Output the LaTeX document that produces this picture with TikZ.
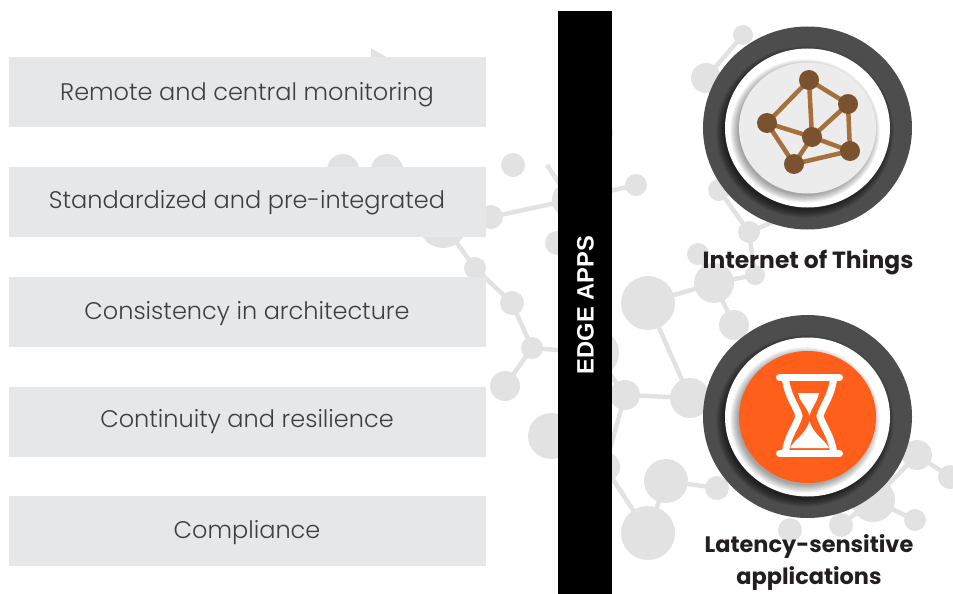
\documentclass[tikz,border=0pt]{standalone}
\usepackage{fontspec}
\setmainfont{Poppins}
\newfontfamily\lightf{Poppins Light}
\newfontfamily\barf{Liberation Sans}[BoldFont={Liberation Sans Bold}]
\usetikzlibrary{shapes.geometric}
\definecolor{atomc}{HTML}{E2E2E2}
\definecolor{boxc}{HTML}{E6E7E8}
\definecolor{ringc}{HTML}{4D4D4D}
\definecolor{discc}{HTML}{ECECEC}
\definecolor{orangec}{HTML}{FF5F1B}
\definecolor{netn}{HTML}{7A5230}
\definecolor{nete}{HTML}{A5703A}
\definecolor{inkc}{HTML}{231F20}
\definecolor{greyt}{HTML}{3F3F42}
\tikzset{
 atom/.style={circle,fill=atomc,inner sep=0pt,minimum size=#1 pt},
 bond/.style={draw=atomc,line width=4.5pt},
 featbox/.style={rectangle,fill=boxc,inner sep=0pt,minimum width=477pt,minimum height=70pt},
 feattext/.style={text=greyt,font=\lightf\fontsize{24}{30}\selectfont},
 headlab/.style={text=inkc,font=\bfseries\fontsize{23.4}{32}\selectfont,align=center},
 ringo/.style={ellipse,fill=ringc,inner sep=0pt,minimum width=209pt,minimum height=203pt},
 ringw/.style={ellipse,fill=white,inner sep=0pt,minimum width=165pt,minimum height=159pt},
 netnode/.style={circle,fill=netn,inner sep=0pt,minimum size=20pt},
 netedge/.style={draw=nete,line width=4.5pt},
 glass/.style={draw=white,line width=7pt,line cap=round},
}
\newcommand{\softshadow}[5]{% x y rx ry opacity
 \foreach \g in {0,1,...,7}{
  \fill[black,opacity=#5] (#1,#2) ellipse [x radius=#3+\g*1.1,y radius=#4+\g*1.1];
 }}
\begin{document}
\begin{tikzpicture}[x=1pt,y=-1pt]
\useasboundingbox (0,0) rectangle (953,594);
% molecule atoms
\fill[atomc] (371,48) -- (386,57) -- (371,57) -- cycle;
\node[atom=32] (a1) at (343,170) {};
\node[atom=32] (a2) at (387,170) {};
\node[atom=24] (a3) at (513,165) {};
\coordinate (a4) at (547,165);
\node[atom=36] (a5) at (570,200) {};
\node[atom=24] (a6) at (491,217) {};
\node[atom=48] (a7) at (443,224) {};
\node[atom=22] (a8) at (475,268) {};
\node[atom=24] (a9) at (512,303) {};
\node[atom=22] (a10) at (532,348) {};
\node[atom=22] (a11) at (636,185) {};
\node[atom=24] (a12) at (557,243) {};
\node[atom=26] (a13) at (600,133) {};
\node[atom=54] (a14) at (648,303) {};
\node[atom=40] (a15) at (714,283) {};
\node[atom=30] (a16) at (734,325) {};
\node[atom=20] (a17) at (755,275) {};
\node[atom=20] (a18) at (743,35) {};
\node[atom=30] (a19) at (706,78) {};
\node[atom=22] (a20) at (719,190) {};
\node[atom=22] (a21) at (749,232) {};
\node[atom=22] (a22) at (698,254) {};
\node[atom=30] (a23) at (505,386) {};
\node[atom=46] (a24) at (551,436) {};
\node[atom=48] (a25) at (595,353) {};
\node[atom=30] (a26) at (625,395) {};
\node[atom=40] (a27) at (690,398) {};
\node[atom=30] (a28) at (605,467) {};
\node[atom=44] (a29) at (666,481) {};
\node[atom=24] (a30) at (717,488) {};
\node[atom=54] (a31) at (648,533) {};
\node[atom=30] (a32) at (917,455) {};
\node[atom=24] (a33) at (950,477) {};
\node[atom=44] (a34) at (873,500) {};
\node[atom=22] (a35) at (915,520) {};
\node[atom=24] (a36) at (841,525) {};
\node[atom=24] (a37) at (790,530) {};
\coordinate (a38) at (790,215);
% bonds
\foreach \p/\q in {a4/a5,a6/a5,a5/a11,a7/a8,a8/a9,a9/a10,a10/a23,a10/a25,a14/a15,a15/a16,a15/a17,a14/a27,a26/a27,a25/a26,a26/a28,a28/a31,a29/a31,a29/a30,a18/a19,a20/a21,a21/a38,a21/a17,a22/a15,a32/a33,a34/a35,a34/a36,a34/a32}
  \draw[bond] (\p.center) -- (\q.center);
% feature boxes
\node[featbox] (b1) at (247.5,92) {};
\node[featbox] (b2) at (247.5,202) {};
\node[featbox] (b3) at (247.5,312) {};
\node[featbox] (b4) at (247.5,422) {};
\node[featbox] (b5) at (247.5,531) {};
\node[feattext] at (247,95) {Remote and central monitoring};
\node[feattext] at (247,203) {Standardized and pre-integrated};
\node[feattext] at (247,314) {Consistency in architecture};
\node[feattext] at (247,422) {Continuity and resilience};
\node[feattext] at (247,533) {Compliance};
% bar
\fill[black] (558,11) rectangle (612,594);
\node[rotate=90,text=white,font=\barf\bfseries\fontsize{23.7}{28}\selectfont] (bartext) at (585.5,305) {EDGE APPS};
% ring 1
\node[ringo] (r1) at (807.5,128) {};
\softshadow{805}{132}{81}{78}{0.09}
\node[ringw] (w1) at (807.5,128) {};
\softshadow{805}{131}{67}{64}{0.05}
\node[ellipse,fill=discc,inner sep=0pt,minimum width=137pt,minimum height=131pt] (d1) at (807.5,128) {};
\coordinate (n1) at (809,80);
\coordinate (n2) at (848,104);
\coordinate (n3) at (850,151);
\coordinate (n4) at (812,137);
\coordinate (n5) at (767,123);
\coordinate (n6) at (794,164);
\foreach \p/\q in {n1/n5,n1/n4,n1/n2,n2/n4,n2/n3,n4/n3,n4/n5,n4/n6,n5/n6,n6/n3}
  \draw[netedge] (\p) -- (\q);
\foreach \p in {n1,n2,n3,n4,n5,n6} \node[netnode] at (\p) {};
\node[headlab] (l1) at (808,262) {Internet of Things};
% ring 2
\node[ringo] (r2) at (807.5,416.5) {};
\softshadow{805}{421}{81}{78}{0.09}
\node[ringw] (w2) at (807.5,417) {};
\softshadow{805}{420}{67}{65}{0.05}
\node[ellipse,fill=orangec,inner sep=0pt,minimum width=137pt,minimum height=132pt] (d2) at (807.5,417) {};
% hourglass
\draw[glass] (779.5,377.5) -- (839.5,377.5);
\draw[glass] (779.5,453.5) -- (839.5,453.5);
\draw[glass,line cap=butt] (785,377) .. controls (788,398) and (796,405) .. (799,416) .. controls (796,427) and (788,434) .. (785,454);
\draw[glass,line cap=butt] (834,377) .. controls (831,398) and (823,405) .. (820,416) .. controls (823,427) and (831,434) .. (834,454);
\fill[white] (798,393) -- (819,393) .. controls (817,403) and (811,408) .. (809.5,416) .. controls (808,408) and (800,403) .. (798,393) -- cycle;
\fill[white] (809.5,421) .. controls (806,434) and (794,440) .. (790,448) -- (829,448) .. controls (825,440) and (813,434) .. (809.5,421) -- cycle;
\node[headlab,font=\bfseries\fontsize{22.4}{32}\selectfont] (l2) at (809,562.5) {Latency-sensitive\\applications};
\end{tikzpicture}
\end{document}
